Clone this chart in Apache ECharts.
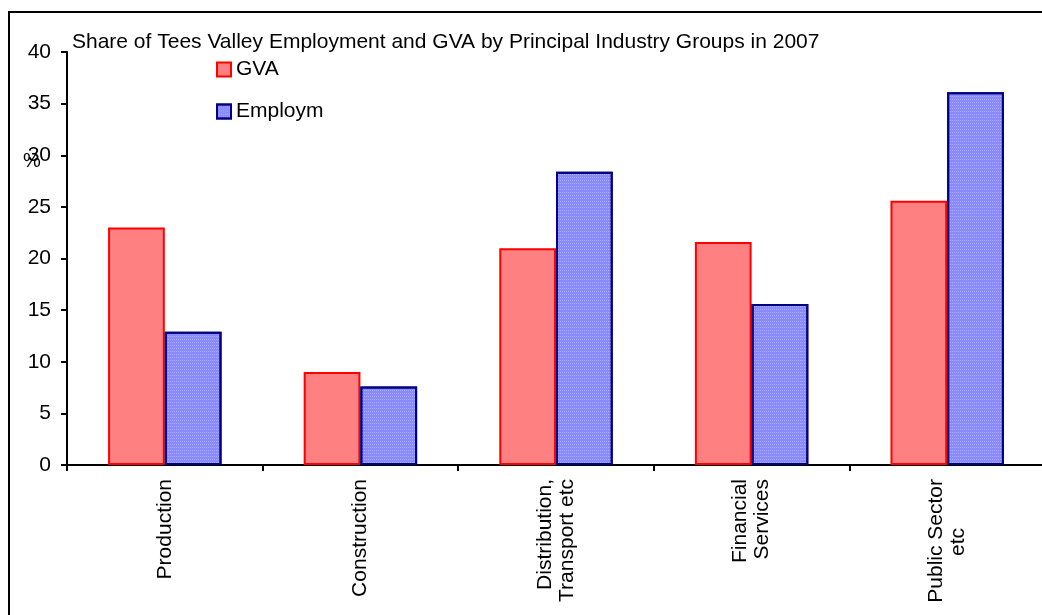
<!DOCTYPE html>
<html>
<head>
<meta charset="utf-8">
<script src="https://cdn.jsdelivr.net/npm/echarts@6/dist/echarts.min.js"></script>
<style>
html, body { margin: 0; padding: 0; background: #fff; }
#shareChart { width: 1042px; height: 615px; }
</style>
</head>
<body>
<div id="shareChart"></div>
<script>
var industries = ['Production', 'Construction', 'Distribution,\nTransport etc', 'Financial\nServices', 'Public Sector\netc'];
var gvaShare = [23.0, 9.0, 21.0, 21.6, 25.6];
var employShare = [12.9, 7.6, 28.4, 15.6, 36.1];
var yTicks = [0, 5, 10, 15, 20, 25, 30, 35, 40];

var font = 'Liberation Sans';

var shareChart = echarts.init(document.getElementById('shareChart'));
var option = {
	animation: false,
	backgroundColor: '#fff',
	textStyle: { fontFamily: font, color: '#000' },
	title: {
		text: 'Share of Tees Valley Employment and GVA by Principal Industry Groups in 2007',
		left: 67,
		top: 27,
		textStyle: { fontFamily: font, fontSize: 21, fontWeight: 'normal', color: '#000' }
	},
	legend: {
		orient: 'vertical',
		left: 211,
		top: 54,
		itemWidth: 14,
		itemHeight: 14,
		itemGap: 21,
		icon: 'rect',
		textStyle: { fontFamily: font, fontSize: 21, color: '#000' },
		data: ['GVA', 'Employm']
	},
	graphic: [
		{
			type: 'rect',
			shape: { x: 9, y: 12, width: 1100, height: 700 },
			style: { fill: 'none', stroke: '#000', lineWidth: 2 },
			silent: true
		},
		{
			type: 'text',
			left: 23,
			top: 151,
			style: { text: '%', font: '20px "Liberation Sans"', fill: '#000' }
		}
	],
	grid: {
		left: 67,
		right: -3,
		top: 52,
		bottom: 150,
		containLabel: false,
		outerBoundsMode: 'none'
	},
	xAxis: {
		type: 'category',
		data: industries,
		axisLine: { lineStyle: { color: '#000', width: 2 } },
		axisTick: { show: true, length: 6, lineStyle: { color: '#000', width: 2 } },
		axisLabel: {
			interval: 0,
			rotate: 90,
			margin: 14,
			fontFamily: font,
			fontSize: 21,
			lineHeight: 22,
			color: '#000',
			formatter: function (value) {
				// second line of the last label sits centred under the first in the original
				if (value === 'Public Sector\netc') {
					return 'Public Sector\n{pad|etc}';
				}
				return value;
			},
			rich: {
				pad: { fontFamily: font, fontSize: 21, lineHeight: 22, color: '#000', padding: [0, 49, 0, 0] }
			}
		},
		splitLine: { show: false }
	},
	yAxis: {
		type: 'value',
		min: yTicks[0],
		max: yTicks[yTicks.length - 1],
		interval: 5,
		axisLine: { show: true, lineStyle: { color: '#000', width: 2 } },
		axisTick: { show: true, length: 6, lineStyle: { color: '#000', width: 2 } },
		axisLabel: { margin: 16, fontFamily: font, fontSize: 21, color: '#000' },
		splitLine: { show: false }
	},
	series: [
		{
			name: 'GVA',
			type: 'bar',
			barGap: '0%',
			barCategoryGap: '42%',
			itemStyle: { color: '#ff8080', borderColor: '#ff0000', borderWidth: 2 },
			data: gvaShare
		},
		{
			name: 'Employm',
			type: 'bar',
			barGap: '0%',
			barCategoryGap: '42%',
			itemStyle: {
				color: '#8a8aff',
				borderColor: '#000080',
				borderWidth: 2,
				decal: {
					symbol: 'rect',
					symbolSize: 1,
					color: 'rgba(255,255,255,0.3)',
					dashArrayX: [1, 1],
					dashArrayY: [1, 2]
				}
			},
			data: employShare
		}
	]
};
shareChart.setOption(option);
</script>
</body>
</html>
